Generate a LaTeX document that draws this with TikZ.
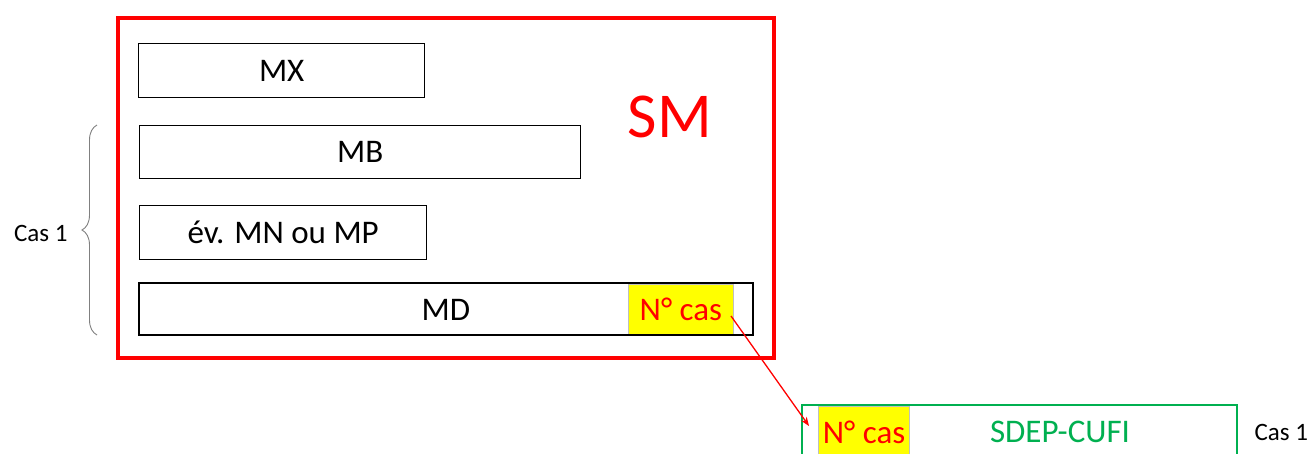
\documentclass[tikz,border=0pt]{standalone}
\usepackage{fontspec}
\setmainfont{Carlito}
\usetikzlibrary{arrows.meta,decorations.pathreplacing}
\definecolor{smred}{RGB}{255,0,0}
\definecolor{cgreen}{RGB}{0,176,80}
\definecolor{cyellow}{RGB}{255,255,0}
\tikzset{
  mbox/.style={draw=black, line width=1.4pt, fill=white, inner sep=0pt, anchor=north west,font=\fontsize{33}{36}\selectfont},
  ycell/.style={fill=cyellow, draw=black!25, line width=0.8pt, inner sep=0pt, anchor=north west, text=smred, font=\fontsize{33}{36}\selectfont},
}
\begin{document}
\begin{tikzpicture}[x=1pt,y=-1pt]
\useasboundingbox (0,0) rectangle (1311,453);
\clip (0,0) rectangle (1311,453);
\fill[white] (0,0) rectangle (1311,453);
% SM box
\node[draw=smred, line width=4pt, minimum width=656pt, minimum height=340pt, inner sep=0pt, anchor=north west] (sm) at (116,16) {};
\node[text=smred, font=\fontsize{64}{70}\selectfont] (smlabel) at (670,117) {SM};
% inner boxes
\node[mbox, minimum width=286pt, minimum height=54pt] (mx) at (138,43) {MX};
\node[mbox, minimum width=441pt, minimum height=53pt] (mb) at (139,125) {MB};
\node[mbox, minimum width=287pt, minimum height=54pt] (mn) at (139,205) {év. MN ou MP};
\node[mbox, minimum width=614pt, minimum height=52pt] (md) at (139,283) {};
\node[font=\fontsize{33}{36}\selectfont] (mdlabel) at (446,310) {MD};
\node[ycell, minimum width=105pt, minimum height=50pt] (nc1) at (628,284) {N° cas};
\draw[black, line width=1.4pt] (139,283) rectangle (753,335);
% brace
\draw[black!50, line width=0.9pt, decorate, decoration={brace, amplitude=15pt, aspect=0.5}] (97,335) -- (97,125);
\node[font=\fontsize{25}{28}\selectfont, anchor=east] (cas1a) at (71,233) {Cas 1};
% green box
\node[draw=cgreen, line width=1.8pt, minimum width=435pt, minimum height=70pt, inner sep=0pt, anchor=north west, fill=white] (sdep) at (801,404) {};
\node[ycell, minimum width=91pt, minimum height=60pt] (nc2) at (818,405.5) {};
\node[text=smred, font=\fontsize{33}{36}\selectfont] (nc2t) at (864,432) {N° cas};
\node[text=cgreen, font=\fontsize{33}{36}\selectfont] (sdept) at (1060,432) {SDEP-CUFI};
\node[font=\fontsize{25}{28}\selectfont, anchor=west] (cas1b) at (1251,432) {Cas 1};
% arrow
\coordinate (a1) at (731,316);
\coordinate (a2) at (809,426);
\draw[smred, line width=1.3pt, -{Stealth[length=9pt,width=7pt]}] (a1) -- (a2);
\end{tikzpicture}
\end{document}
